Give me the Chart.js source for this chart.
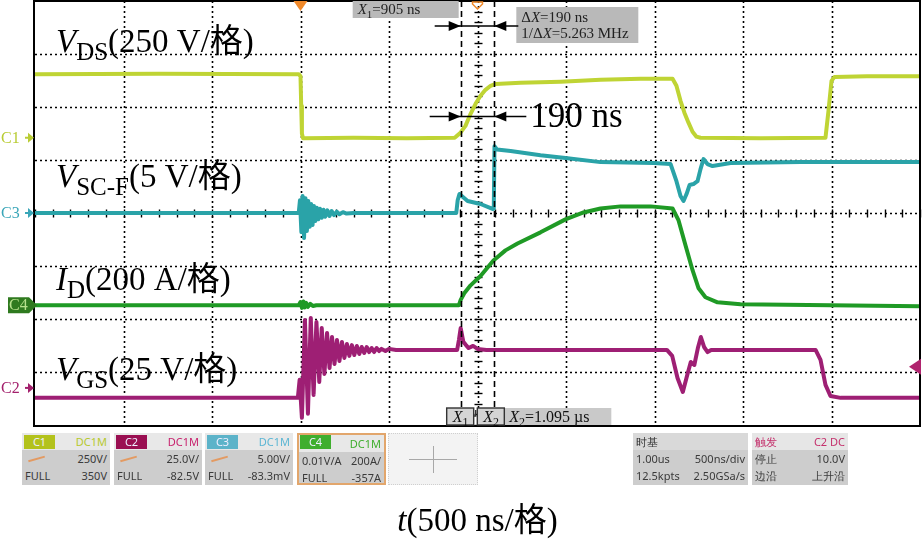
<!DOCTYPE html>
<html>
<head>
<meta charset="utf-8">
<script src="https://cdn.jsdelivr.net/npm/chart.js@4.4.1/dist/chart.umd.min.js"></script>
<style>
body{margin:0;background:#fff;width:922px;height:539px;overflow:hidden;position:relative;}
#scope{position:absolute;left:0;top:0;}
.ch{position:absolute;top:433px;height:52px;background:#cdcdcd;font:11px "Noto Sans",sans-serif;color:#3a3a3a;box-sizing:border-box;}
.ch .hd{height:17px;background:#e8e8e8;position:relative;}
.ch .row{height:17px;line-height:17px;position:relative;padding-left:3px;}
.tag{position:absolute;left:2px;top:2px;width:31px;height:14px;line-height:14px;color:#eef;text-align:center;}
.r{position:absolute;right:3px;}
.hd .r{line-height:17px;}
.sl{position:absolute;left:6px;top:8px;width:17px;height:1.5px;background:#e39a62;transform:rotate(-16deg);}
.plain .hd{background:#d9d9d9;}
.plain .hd span.l{position:absolute;left:3px;line-height:17px;}
#cross{position:absolute;left:388px;top:433px;width:90px;height:52px;background:#f3f3f3;border:1px dotted #cfcfcf;box-sizing:border-box;}
#cross .h{position:absolute;left:20px;top:25px;width:48px;height:1px;background:#a8a8a8;}
#cross .v{position:absolute;left:44px;top:12px;width:1px;height:27px;background:#a8a8a8;}
</style>
</head>
<body>
<canvas id="scope" width="922" height="539"></canvas>

<div class="ch" style="left:22px;width:88px">
  <div class="hd"><span class="tag" style="background:#b3c21c">C1</span><span class="r" style="color:#b6c92e">DC1M</span></div>
  <div class="row"><span class="sl"></span><span class="r">250V/</span></div>
  <div class="row">FULL<span class="r">350V</span></div>
</div>
<div class="ch" style="left:114px;width:88px">
  <div class="hd"><span class="tag" style="background:#9a0f52">C2</span><span class="r" style="color:#c8226e">DC1M</span></div>
  <div class="row"><span class="sl"></span><span class="r">25.0V/</span></div>
  <div class="row">FULL<span class="r">-82.5V</span></div>
</div>
<div class="ch" style="left:205px;width:88px">
  <div class="hd"><span class="tag" style="background:#5cb3c9">C3</span><span class="r" style="color:#5cb6d4">DC1M</span></div>
  <div class="row"><span class="sl"></span><span class="r">5.00V/</span></div>
  <div class="row">FULL<span class="r">-83.3mV</span></div>
</div>
<div class="ch" style="left:297px;width:89px;border:2px solid #e2a66c">
  <div class="hd"><span class="tag" style="background:#3fae2e;left:1px;top:0">C4</span><span class="r" style="color:#3fae2e">DC1M</span></div>
  <div class="row">0.01V/A<span class="r">200A/</span></div>
  <div class="row">FULL<span class="r">-357A</span></div>
</div>
<div id="cross"><div class="h"></div><div class="v"></div></div>
<div class="ch plain" style="left:633px;width:115px">
  <div class="hd"><span class="l" style="color:#333">时基</span></div>
  <div class="row">1.00us<span class="r">500ns/div</span></div>
  <div class="row">12.5kpts<span class="r">2.50GSa/s</span></div>
</div>
<div class="ch plain" style="left:752px;width:96px">
  <div class="hd" style="background:#e6e6e6"><span class="l" style="color:#c4306c">触发</span><span class="r" style="color:#c4306c">C2 DC</span></div>
  <div class="row">停止<span class="r">10.0V</span></div>
  <div class="row">边沿<span class="r">上升沿</span></div>
</div>

<script>
// 時間軸 (ns，觸發點為 0)，每格 500 ns，共 10 格
const gridTimeNs = [-1500, -1000, -500, 0, 500, 1000, 1500, 2000, 2500, 3000, 3500];
const gridDiv = [-4, -3, -2, -1, 0, 1, 2, 3, 4];

// 各通道的刻度 (每格) 與零點位置 (格)
const chNames = ['C1', 'C3', 'C4', 'C2'];
const chPerDiv = [250, 5, 200, 25];
const chZeroDiv = [1.42, 0.0, -1.74, -3.30];
const chColors = ['#bfd434', '#2aa3a8', '#1f9a25', '#9e1f74'];
const chMarkColors = ['#b9cc34', '#3aa6b8', '#2f7a1f', '#a3206c'];

// C1: V_DS (V)
const vdsT = [-1500, -800, -10, 0, 4, 8, 14, 300, 600, 870, 876, 904, 932, 961, 989, 1017, 1045, 1074, 1102, 1243, 1469, 1695, 1921, 2102, 2124, 2147, 2169, 2192, 2215, 2237, 2260, 2600, 2966, 2983, 3000, 3017, 3200, 3500];
const vdsV = [300, 302, 300, 290, 150, 20, -2, 0, -2, 0, 3, 24, 56, 113, 160, 198, 226, 245, 254, 259, 264, 273, 278, 278, 245, 174, 118, 71, 28, 5, 0, -2, 0, 127, 268, 287, 290, 290];

// C3: V_SC-F (V)
const vscT = [-1500, -10, -3, 5, 12, 20, 28, 36, 44, 52, 60, 68, 76, 84, 92, 100, 110, 120, 130, 140, 152, 164, 176, 190, 205, 220, 240, 260, 300, 880, 888, 898, 944, 1017, 1085, 1092, 1096, 1110, 1187, 1356, 1497, 1695, 1995, 2091, 2124, 2147, 2164, 2181, 2198, 2220, 2243, 2260, 2277, 2299, 2328, 2430, 2825, 3500];
const vscV = [0, 0, 1.2, -1.8, 1.6, -2.35, 1.4, -1.7, 1.13, -1.3, 0.85, -1.13, 0.66, -0.75, 0.5, -0.6, 0.4, -0.45, 0.3, -0.35, 0.25, -0.28, 0.19, -0.2, 0.12, -0.12, 0.08, -0.05, 0, 0, 1.2, 1.79, 1.13, 0.85, 0.38, 0.4, 6.3, 6.0, 5.84, 5.45, 5.18, 4.8, 4.71, 4.62, 3.0, 1.6, 1.13, 1.79, 2.64, 2.73, 3.0, 4.14, 5.09, 4.62, 4.43, 4.71, 4.8, 4.8];

// C4: I_D (A)
const idT = [-1500, -10, 0, 8, 16, 24, 32, 42, 55, 70, 90, 895, 905, 925, 961, 1017, 1090, 1158, 1226, 1356, 1497, 1599, 1695, 1808, 1978, 2102, 2136, 2175, 2215, 2249, 2288, 2356, 2486, 3500];
const idV = [0, 0, 12, -10, 14, -8, 9, -6, 5, -3, 0, 0, 20, 45, 75, 110, 169, 207, 233, 275, 324, 350, 365, 373, 373, 365, 320, 226, 132, 64, 30, 11, 4, -4];

// C2: V_GS (V)
const vgsT = [-1500, -15, -5, 8, 25, 42, 58, 74, 90, 106, 120, 135, 150, 164, 178, 192, 206, 220, 234, 248, 262, 276, 290, 304, 318, 332, 346, 360, 374, 388, 402, 416, 430, 444, 458, 480, 500, 540, 885, 895, 905, 920, 935, 950, 975, 1000, 1050, 2070, 2100, 2130, 2160, 2185, 2205, 2225, 2245, 2262, 2280, 2300, 2320, 2910, 2938, 2966, 2994, 3051, 3500];
const vgsV = [-4.7, -4.7, 3.8, -14.1, 32, -12.2, 33, -3.3, 31.1, 2.8, 28.2, 6.6, 25.9, 9.4, 24, 11.3, 22.6, 12.7, 21.7, 14.1, 20.7, 15.1, 20.2, 15.5, 19.8, 16, 19.3, 16.5, 19.3, 16.9, 18.8, 16.9, 18.8, 17.4, 18.4, 17.4, 18.4, 17.9, 17.9, 22.6, 28.2, 21.7, 20.2, 18.8, 19.8, 18.4, 17.9, 17.9, 15.1, 4.7, -1.9, 6.1, 12.2, 10.8, 18.8, 24, 19.3, 16.9, 17.9, 17.9, 13.2, 1.4, -3.8, -4.7, -4.7];

// 游標 X1 / X2 (ns) 與觸發準位 (C2, V)
const cursorNs = [905, 1095];
const trigLevelV = 10;

const traces = [[vdsT, vdsV], [vscT, vscV], [idT, idV], [vgsT, vgsV]];

const datasets = traces.map(function (tr, c) {
    return {
        label: chNames[c],
        data: tr[0].map((t, i) => ({ x: t, y: chZeroDiv[c] + tr[1][i] / chPerDiv[c] })),
        borderColor: chColors[c],
        borderWidth: 4,
        pointRadius: 0,
        tension: 0,
        borderJoinStyle: 'round'
    };
});

const SERIF = '"Liberation Serif", "Noto Sans CJK SC", serif';

function richText(ctx, parts, x, y, size, measureOnly) {
    parts.forEach(p => {
        const fs = p.sub ? Math.round(size * 0.76) : size;
        ctx.font = (p.i ? 'italic ' : '') + fs + 'px ' + SERIF;
        if (!measureOnly) ctx.fillText(p.t, x, y + (p.sub ? size * 0.24 : 0));
        x += ctx.measureText(p.t).width;
    });
    return x;
}

function arrowHead(ctx, tipX, y, dir) {
    // dir = 1 指向右, -1 指向左
    ctx.beginPath();
    ctx.moveTo(tipX, y);
    ctx.lineTo(tipX - dir * 12, y - 5);
    ctx.lineTo(tipX - dir * 12, y + 5);
    ctx.closePath();
    ctx.fill();
}

const traceLabels = [
    { parts: [{ t: 'V', i: 1 }, { t: 'DS', sub: 1 }, { t: '(250 V/格)' }], div: 3.04 },
    { parts: [{ t: 'V', i: 1 }, { t: 'SC-F', sub: 1 }, { t: '(5 V/格)' }], div: 0.49 },
    { parts: [{ t: 'I', i: 1 }, { t: 'D', sub: 1 }, { t: '(200 A/格)' }], div: -1.45 },
    { parts: [{ t: 'V', i: 1 }, { t: 'GS', sub: 1 }, { t: '(25 V/格)' }], div: -3.15 }
];
const timeAxisTitle = [{ t: 't', i: 1 }, { t: '(500 ns/格)' }];

const scopePlugin = {
    id: 'scope',
    beforeDatasetsDraw(chart) {
        const { ctx, chartArea: a, scales: { x, y } } = chart;
        ctx.save();
        ctx.strokeStyle = '#000';
        ctx.lineWidth = 1.6;
        ctx.setLineDash([2, 3]);
        gridTimeNs.slice(1, -1).forEach(t => {
            const px = Math.round(x.getPixelForValue(t)) + 0.5;
            ctx.beginPath(); ctx.moveTo(px, a.top); ctx.lineTo(px, a.bottom); ctx.stroke();
        });
        gridDiv.slice(1, -1).forEach(d => {
            const py = Math.round(y.getPixelForValue(d)) + 0.5;
            ctx.beginPath(); ctx.moveTo(a.left, py); ctx.lineTo(a.right, py); ctx.stroke();
        });
        // 中心軸小刻度
        ctx.setLineDash([]);
        ctx.lineWidth = 1.4;
        const cy = Math.round(y.getPixelForValue(0)) + 0.5;
        const cx = Math.round(x.getPixelForValue(1000)) + 0.5;
        for (let t = -1500; t <= 3500; t += 100) {
            const px = Math.round(x.getPixelForValue(t)) + 0.5;
            ctx.beginPath(); ctx.moveTo(px, cy - 4); ctx.lineTo(px, cy + 4); ctx.stroke();
        }
        for (let d = -4; d <= 4.001; d += 0.2) {
            const py = Math.round(y.getPixelForValue(d)) + 0.5;
            ctx.beginPath(); ctx.moveTo(cx - 4, py); ctx.lineTo(cx + 4, py); ctx.stroke();
        }
        ctx.restore();
    },
    afterDatasetsDraw(chart) {
        const { ctx, chartArea: a, scales: { x, y } } = chart;
        ctx.save();
        // 邊框
        ctx.strokeStyle = '#000';
        ctx.lineWidth = 2;
        ctx.strokeRect(a.left - 1, a.top, a.right - a.left + 1, a.bottom - a.top + 1);

        // 游標虛線
        const x1 = x.getPixelForValue(cursorNs[0]);
        const x2 = x.getPixelForValue(cursorNs[1]);
        ctx.lineWidth = 1.6;
        ctx.setLineDash([6, 4]);
        [x1, x2].forEach(px => {
            ctx.beginPath(); ctx.moveTo(Math.round(px) + 0.5, a.top); ctx.lineTo(Math.round(px) + 0.5, a.bottom); ctx.stroke();
        });
        ctx.setLineDash([]);

        // 觸發標記 (上方)
        const tx = x.getPixelForValue(0);
        ctx.fillStyle = '#f0892a';
        ctx.beginPath(); ctx.moveTo(tx - 7, a.top); ctx.lineTo(tx + 7, a.top); ctx.lineTo(tx, a.top + 10); ctx.closePath(); ctx.fill();
        const mx = x.getPixelForValue(1000);
        ctx.strokeStyle = '#f0892a';
        ctx.lineWidth = 1.5;
        ctx.beginPath(); ctx.moveTo(mx - 5, a.top + 1); ctx.lineTo(mx + 5, a.top + 1); ctx.lineTo(mx + 5, a.top + 3); ctx.lineTo(mx, a.top + 8); ctx.lineTo(mx - 5, a.top + 3); ctx.closePath(); ctx.stroke();

        // 觸發準位 (右側)
        const ty = y.getPixelForValue(chZeroDiv[3] + trigLevelV / chPerDiv[3]);
        ctx.fillStyle = '#b0236e';
        ctx.beginPath(); ctx.moveTo(a.right + 1, ty - 8); ctx.lineTo(a.right + 1, ty + 8); ctx.lineTo(a.right - 11, ty); ctx.closePath(); ctx.fill();

        // 通道零點標記
        ctx.textBaseline = 'middle';
        chNames.forEach((name, c) => {
            const py = y.getPixelForValue(chZeroDiv[c]);
            if (name === 'C4') {
                ctx.fillStyle = chMarkColors[c];
                ctx.beginPath();
                ctx.moveTo(8, py - 8); ctx.lineTo(29, py - 8); ctx.lineTo(37, py);
                ctx.lineTo(29, py + 8); ctx.lineTo(8, py + 8); ctx.closePath(); ctx.fill();
                ctx.fillStyle = '#b5e08c';
                ctx.font = '16px ' + SERIF;
                ctx.fillText(name, 9, py + 1);
            } else {
                ctx.fillStyle = chMarkColors[c];
                ctx.font = '16px ' + SERIF;
                ctx.fillText(name, 1, py + 1);
                ctx.fillRect(25, py - 1, 5, 2);
                ctx.beginPath(); ctx.moveTo(28, py - 5); ctx.lineTo(34, py); ctx.lineTo(28, py + 5); ctx.closePath(); ctx.fill();
            }
        });
        ctx.textBaseline = 'alphabetic';

        // 波形說明文字
        ctx.fillStyle = '#000';
        traceLabels.forEach(l => {
            richText(ctx, l.parts, a.left + 21, y.getPixelForValue(l.div), 33);
        });

        // 時間軸標題 (置於圖下方)
        const tw = richText(ctx, timeAxisTitle, 0, 0, 33, true);
        richText(ctx, timeAxisTitle, x.getPixelForValue(1000) - tw / 2, a.bottom + 106, 33);

        // 上方游標資訊框
        ctx.fillStyle = '#b9b9b9';
        ctx.fillRect(x1 - 108, a.top, 106, 17);
        ctx.fillStyle = '#222';
        richText(ctx, [{ t: 'X', i: 1 }, { t: '1', sub: 1 }, { t: '=905 ns' }], x1 - 103, a.top + 13, 15);
        ctx.fillStyle = '#b9b9b9';
        ctx.fillRect(x2 + 22, a.top + 6, 122, 36);
        ctx.fillStyle = '#222';
        richText(ctx, [{ t: 'Δ' }, { t: 'X', i: 1 }, { t: '=190 ns' }], x2 + 27, a.top + 21, 15);
        richText(ctx, [{ t: '1/Δ' }, { t: 'X', i: 1 }, { t: '=5.263 MHz' }], x2 + 27, a.top + 37, 15);

        // 量測箭頭
        ctx.fillStyle = '#000';
        ctx.strokeStyle = '#000';
        ctx.lineWidth = 1.6;
        [[a.top + 25, 26, 24], [y.getPixelForValue(1.82), 31, 32]].forEach(([ay, l1, l2]) => {
            ctx.beginPath(); ctx.moveTo(x1 - l1, ay); ctx.lineTo(x2 + l2, ay); ctx.stroke();
            arrowHead(ctx, x1, ay, 1);
            arrowHead(ctx, x2, ay, -1);
        });
        ctx.font = '35px ' + SERIF;
        ctx.fillText('190 ns', x2 + 36, y.getPixelForValue(1.62));

        // 下方游標標籤
        const by = a.bottom - 17;
        ctx.fillStyle = '#c9c9c9';
        ctx.fillRect(x2 + 9, by, 108, 17);
        ctx.lineWidth = 1.4;
        ctx.strokeStyle = '#333';
        [[x1 - 14, 'X', '1'], [x2 - 17, 'X', '2']].forEach(([bx, t, s]) => {
            ctx.fillStyle = '#d4d4d4';
            ctx.fillRect(bx, by, 27, 17);
            ctx.strokeRect(bx, by, 27, 17);
            ctx.fillStyle = '#111';
            richText(ctx, [{ t: t, i: 1 }, { t: s, sub: 1 }], bx + 6, by + 14, 16);
        });
        ctx.beginPath(); ctx.moveTo(x1 + 13, by + 8); ctx.lineTo(x1 + 15, by + 8); ctx.lineTo(x1 + 15, by + 2); ctx.stroke();
        ctx.fillStyle = '#111';
        richText(ctx, [{ t: 'X', i: 1 }, { t: '2', sub: 1 }, { t: '=1.095 µs' }], x2 + 15, by + 14, 16);
        ctx.restore();
    }
};

new Chart(document.getElementById('scope'), {
    type: 'line',
    data: { datasets: datasets },
    options: {
        responsive: false,
        animation: false,
        layout: { padding: { left: 35, right: 2, top: 1, bottom: 114 } },
        plugins: { legend: { display: false }, tooltip: { enabled: false } },
        scales: {
            x: { type: 'linear', display: false, min: -1500, max: 3500 },
            y: { display: false, min: -4, max: 4 }
        }
    },
    plugins: [scopePlugin]
});
</script>
</body>
</html>
